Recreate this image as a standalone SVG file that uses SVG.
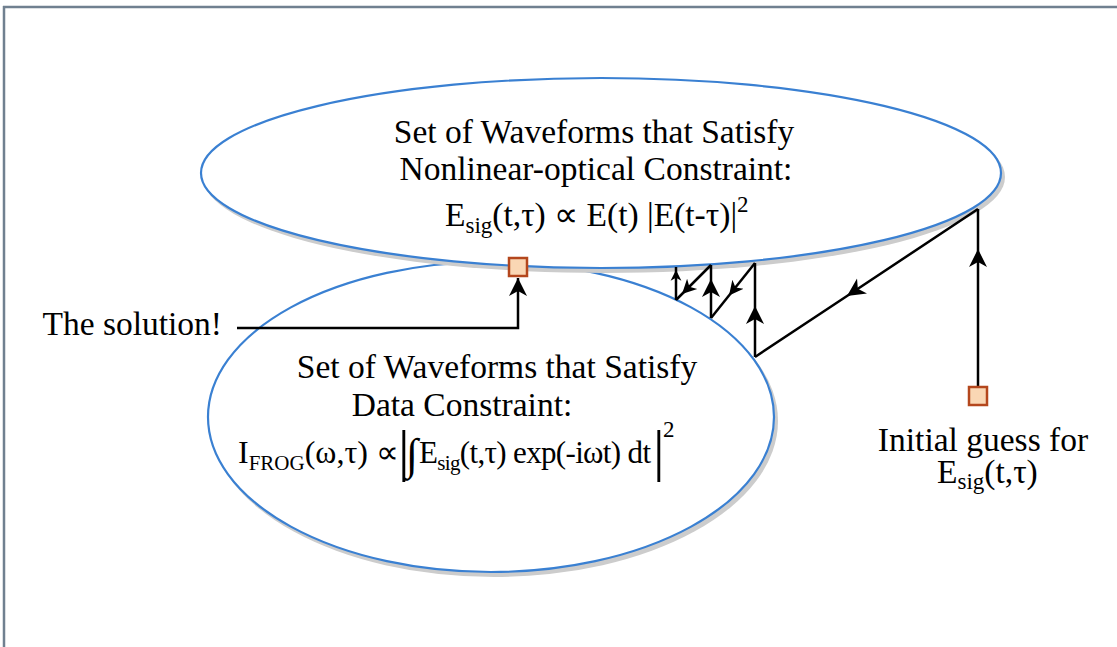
<svg xmlns="http://www.w3.org/2000/svg" width="1117" height="647" viewBox="0 0 1117 647">
<style>
.t{font-family:"Liberation Serif","Times New Roman",serif;font-size:33.5px;fill:#000}
.sub{font-size:23px}
.ell{fill:#fff;stroke:#3a80d2;stroke-width:2.2}
.sh{fill:#cccccc}
.c{fill:none;stroke:#000;stroke-width:2.5}
.sq{fill:#fad7b4;stroke:#b4471d;stroke-width:2.5}
</style>
<defs>
<marker id="aL" markerUnits="userSpaceOnUse" viewBox="0 0 20 20" refX="18" refY="10" markerWidth="20" markerHeight="20" orient="auto">
<path d="M18,10 L0,1 L5,10 L0,19 z" fill="#000"/>
</marker>
<marker id="aM" markerUnits="userSpaceOnUse" viewBox="0 0 20 20" refX="18" refY="10" markerWidth="16" markerHeight="16" orient="auto">
<path d="M18,10 L0,1 L5,10 L0,19 z" fill="#000"/>
</marker>
<marker id="aS" markerUnits="userSpaceOnUse" viewBox="0 0 20 20" refX="18" refY="10" markerWidth="12" markerHeight="12" orient="auto">
<path d="M18,10 L0,1 L5,10 L0,19 z" fill="#000"/>
</marker>
</defs>
<g id="frame">
<line x1="3" y1="7" x2="1117" y2="7" stroke="#708090" stroke-width="2.5"/>
<line x1="4" y1="6" x2="4" y2="647" stroke="#708090" stroke-width="2.5"/>
</g>
<g id="data-constraint">
<ellipse class="sh" cx="494" cy="421" rx="284" ry="156"/>
<ellipse class="ell" cx="491" cy="417" rx="283" ry="155"/>
</g>
<g id="nonlinear-constraint">
<ellipse class="sh" cx="604" cy="177" rx="401" ry="96"/>
<ellipse class="ell" cx="601" cy="173" rx="400" ry="95"/>
</g>
<g id="nonlinear-text">
<text class="t" x="594" y="143" text-anchor="middle">Set of Waveforms that Satisfy</text>
<text class="t" x="596" y="180" text-anchor="middle">Nonlinear-optical Constraint:</text>
<text class="t" x="445" y="226">E<tspan class="sub" dy="7">sig</tspan><tspan dy="-7">(t,τ) ∝ E(t) |E(t-τ)|</tspan><tspan class="sub" dy="-14">2</tspan></text>
</g>
<g id="data-text">
<text class="t" x="497" y="378" text-anchor="middle">Set of Waveforms that Satisfy</text>
<text class="t" x="462" y="416" text-anchor="middle">Data Constraint:</text>
<text class="t" x="238" y="463" style="font-size:32px">I<tspan style="font-size:21px" dy="7">FROG</tspan><tspan dy="-7">(ω,τ) ∝</tspan></text>
<text class="t" x="398" y="470" style="font-size:58px">|</text>
<text class="t" x="406" y="469" style="font-size:44px">∫</text>
<text class="t" x="419" y="463" style="font-size:31px" textLength="232" lengthAdjust="spacing">E<tspan style="font-size:21px" dy="7">sig</tspan><tspan dy="-7">(t,τ) exp(-iωt) dt</tspan></text>
<text class="t" x="653" y="470" style="font-size:58px">|</text>
<text class="t" x="663" y="437" style="font-size:23px">2</text>
</g>
<g id="connectors">
<path class="c" d="M978,387 L978,249 L978,209" marker-mid="url(#aL)"/>
<path class="c" d="M978,209 L847,296 L755,357" marker-mid="url(#aL)"/>
<path class="c" d="M755,357 L755,306 L755,263" marker-mid="url(#aL)"/>
<path class="c" d="M755,263 L729,295.5 L711,318" marker-mid="url(#aM)"/>
<path class="c" d="M711,318 L711,279 L711,265" marker-mid="url(#aL)"/>
<path class="c" d="M711,265 L682,294 L676,300" marker-mid="url(#aM)"/>
<path class="c" d="M676,300 L676,270 L676,267" marker-mid="url(#aS)"/>
<path class="c" d="M237,328 L518,328 L518,278" marker-end="url(#aL)"/>
</g>
<g id="solution">
<rect class="sq" x="509" y="258" width="18" height="18"/>
<text class="t" x="222" y="335" text-anchor="end">The solution!</text>
</g>
<g id="initial-guess">
<rect class="sq" x="969" y="387" width="18" height="18"/>
<text class="t" x="983" y="451" text-anchor="middle">Initial guess for</text>
<text class="t" x="937" y="483">E<tspan class="sub" dy="6">sig</tspan><tspan dy="-6">(t,τ)</tspan></text>
</g>
</svg>
